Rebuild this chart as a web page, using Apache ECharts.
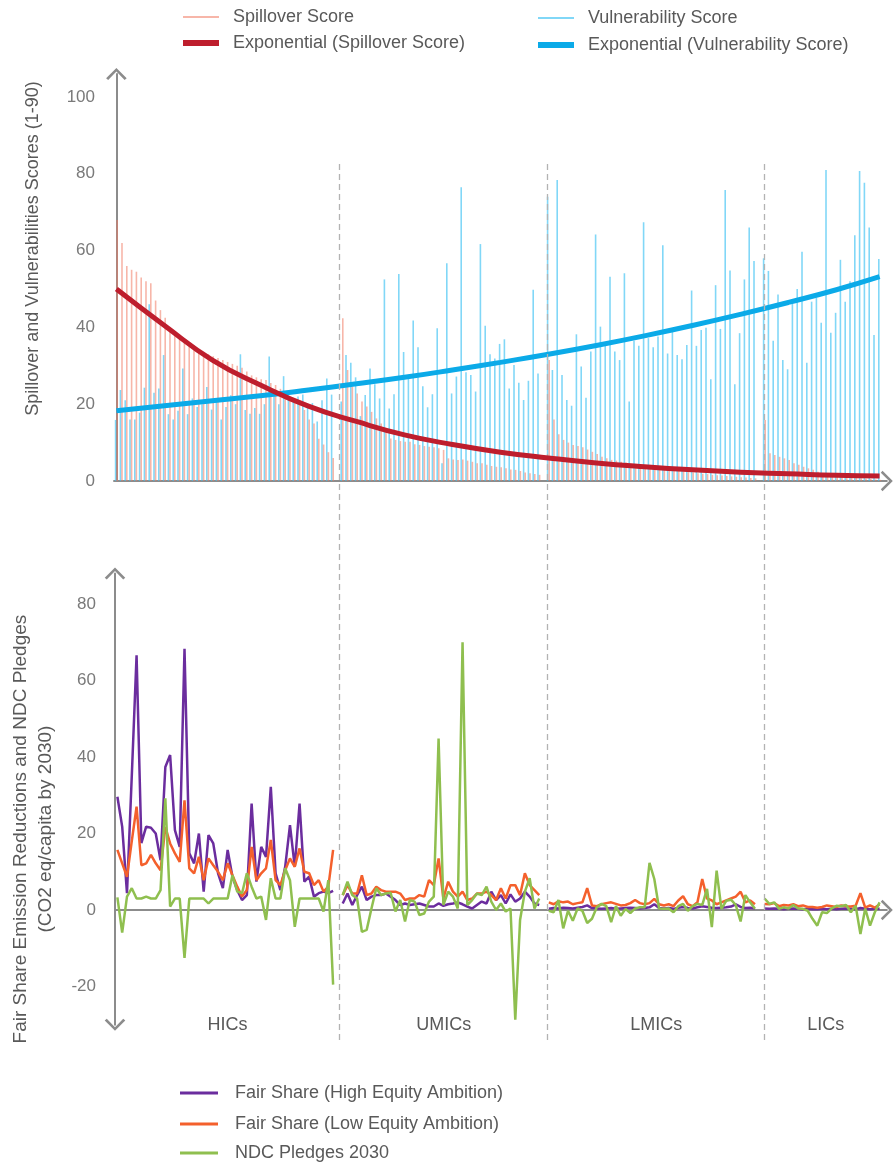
<!DOCTYPE html>
<html>
<head>
<meta charset="utf-8">
<script src="https://cdn.jsdelivr.net/npm/echarts@6/dist/echarts.min.js"></script>
<style>
html,body{margin:0;padding:0;background:#fff;}
#chart{width:894px;height:1166px;}
</style>
</head>
<body>
<div id="chart"></div>
<script>
// ---------- DATA ----------
const groups = ['HICs', 'UMICs', 'LMICs', 'LICs'];

// Spillover Score (bars), per income group, sorted as in the picture
const spillHIC = [68,62,56,55,54.5,53,52,51.5,47,44.5,42.5,40,38.5,37,36,35,34.5,34,33.5,33,32.5,32,31.5,31,30.5,30,29.5,28.5,27.5,27,26.5,26.3,25.5,25,24,23,22,21,20,18.5,16,15,11,9.5,7.5,6];
const spillUMIC = [42.4,28.9,24.6,22.8,20.7,19.4,18,16.3,15,12.8,11.1,10.7,10.4,10.2,10.2,9.6,9.4,9.1,8.9,8.8,8.5,8.1,5.9,5.6,5.5,5.6,5.3,5,4.6,4.6,4.2,3.9,3.7,3.6,3.3,3,2.9,2.6,2.2,2,1.8,1.6];
const spillLMIC = [31.5,16,12.2,10.7,10,9.4,9.1,8.8,8.2,7.6,7,6.3,5.9,5.5,5.3,5,4.8,4.5,4.3,4.1,3.9,3.7,3.5,3.3,3.1,3,2.8,2.6,2.5,2.3,2.2,2,1.9,1.8,1.6,1.5,1.4,1.3,1.2,1.1,1,0.9,0.8,0.7];
const spillLIC = [15.9,7.2,6.8,6.3,5.9,5.5,4.6,4.2,3.7,3.3,2.9,2.4,2,1.7,1.5,1.3,1.1,1,0.9,0.8,0.7,0.6,0.5,0.4,0.3];

// Vulnerability Score (bars)
const vulnHIC = [15.9,23.7,21,16,16,17.8,24.3,46,23,24.1,32.8,17.4,16,18.3,29.3,17.4,21.5,19.3,20,24.5,18.6,21,16,19.3,22.3,20,33,18.5,17.5,19,17.5,20,32.4,22.5,20,27.3,22.5,21.6,22,22.5,19,20.3,15.5,21,26.7,22.5];
const vulnUMIC = [20.7,32.8,30.8,27,16.9,22.4,29.3,25.2,21.5,52.5,18.9,22.6,53.9,33.6,27.2,41.8,34.8,24.7,19.2,22.6,39.8,4.6,56.7,22.8,27.2,76.5,28.3,27.6,23.3,61.7,40.4,33,31.9,35.7,36.9,24.1,30.2,25.6,21.1,26.1,49.8,28];
const vulnLMIC = [74,28.9,78.4,27.6,21.1,19.6,38.2,29.8,21.7,33.7,64.2,40.2,35.9,53.2,33.7,31.5,54.1,20.7,36.5,35.2,67.4,37.2,34.8,37.6,61.4,33.2,38.9,32.8,31.7,35.4,49.6,35.2,39.3,39.9,26.5,51,39.6,75.8,54.8,25.2,38.5,52.5,66,57.3];
const vulnLIC = [58,54.7,36.5,48.6,31.5,29.1,46.3,50,59.7,30.8,46.7,47.7,41.2,81,38.6,43.8,57.6,46.7,52,64,80.7,77.7,66,38,57.8];

// Exponential trend lines (values every 10 country slots)
const trendPos = [0, 10, 20, 30, 40, 50, 60, 70, 80, 90, 100, 110, 120, 130, 140, 150, 159];
const spillTrendVal = [50, 40.5, 31.5, 25, 19.5, 15.5, 12, 9.5, 7.5, 6, 4.7, 3.7, 2.9, 2.3, 1.9, 1.5, 1.3];
const vulnTrendVal = [18.3, 19.6, 20.9, 22.2, 23.7, 25.3, 27, 28.9, 30.9, 33, 35.3, 37.8, 40.5, 43.4, 46.5, 49.8, 53.2];

// Fair Share (High Equity Ambition)
const highHIC = [29.6,21.8,4.4,35,66.6,17.5,21.8,21.5,20,13,37.4,40.5,20.9,16.5,68.3,14.8,12.2,20,4.8,19.6,17.4,9.6,5.7,15.7,8.7,5.2,2.6,3.9,27.8,7.4,16.5,13.9,32.2,9.6,5.2,11.3,22.2,11.3,27.8,7.4,8.7,3.5,4.4,4.8,4.4,5];
const highUMIC = [1.7,4.3,1.3,3.9,6.1,2.6,3.5,3.9,3.9,4.3,3.5,2.6,1.3,1.7,1.3,1.5,1.7,1.3,0.9,0.9,1.7,1.1,1.5,1.7,2,1.5,0.9,0.4,1.3,2.2,1.7,4.8,2.6,3.9,1.7,4.1,2.2,3,4.8,3.5,1.7,1.3];
const highLMIC = [0.3,0.5,0.4,0.6,0.5,0.4,0.6,0.8,1.2,0.5,0.4,0.3,0.4,0.5,0.3,0.4,0.5,0.6,0.5,0.4,0.5,0.7,1.5,0.5,0.4,0.5,0.3,0.6,0.8,0.5,0.4,0.7,1,0.8,0.6,0.5,0.6,0.7,0.9,1.5,0.8,0.5,0.6,0.4];
const highLIC = [0.4,0.3,0.4,0.3,0.2,0.3,0.4,0.3,0.2,0.3,0.2,0.2,0.3,0.2,0.3,0.2,0.3,0.4,0.3,0.2,0.5,0.3,0.2,0.3,0.3];

// Fair Share (Low Equity Ambition)
const lowHIC = [15.7,12.2,8.7,18,27,11.7,12.2,14.4,12.2,10.4,21.7,17.4,14.8,12.6,28.7,10.9,9.6,13.9,7.8,13.5,11.7,10,7.8,12.2,9.1,6.1,3.5,5.2,16.5,7.8,9.6,10.9,18.3,7.8,6.5,10.4,13.5,11.3,16.1,10,9.6,6.5,7.8,4.8,6.1,15.7];
const lowUMIC = [3.9,6.5,4.3,4.3,9.1,3.9,4.3,6.1,5.2,4.8,4.8,4.8,4.3,2.6,3,3,3.9,3.5,7.8,6.5,13.5,3,7.4,4.8,3.5,4.8,2.6,3,4.3,4.3,4.8,3.9,2.6,5.7,3,6.5,6.5,3.9,9.6,6.5,5.2,3.9];
const lowLMIC = [2,1.5,2.3,2,2.2,1.5,1.8,2,5.7,1.2,1,1.5,1.8,2,1.6,1.2,1.3,1.8,2.6,1.8,1.5,1.8,2.9,1.5,1.2,1.5,1,2.5,3.6,1.5,1,2,8.1,3,2.5,1.5,2,2.5,3,3.5,4.8,2,2.5,1.5];
const lowLIC = [1.6,1.5,1.8,1,1.3,1.2,1.5,1,1.2,0.8,0.8,0.6,0.8,1.2,1,0.8,1.2,1,0.9,1.1,4.4,0.6,1.2,0.6,1.5];

// NDC Pledges 2030
const ndcHIC = [3.3,-5.9,3.5,5.7,3,3,3.5,3,3,5.2,29.2,0.9,3,3,-12.5,3,3,3,3,1.7,3,3,3,3,9.1,4.8,4.4,9.6,6.1,3,3.5,-2.6,8.3,3,3,10.9,7.8,-4.4,3,3,3,3,3,-0.4,7.8,-19.5];
const ndcUMIC = [3.9,7.4,3.9,3,-5.7,-5.2,0.4,5.7,3.9,4.3,4.5,-0.4,2.6,-3,2.6,2.2,-1.3,-0.9,2.2,3.5,44.8,1.3,4.8,3.5,0.4,70,1.3,2.6,4.3,3.9,6.1,2.2,0,1.7,-0.4,0.4,-28.7,-2.6,4.8,8.3,0.4,3];
const ndcLMIC = [-0.2,-0.6,2.6,-4.8,-0.2,-2.8,0.4,-0.2,-3.4,-2.3,0.7,1.6,1,-3.2,1,-1.5,0.3,-0.8,0.4,0.7,0.7,12.3,8.1,0.4,0.3,0.4,-0.6,1,1.6,-0.2,1,1.6,1.3,5.5,-4.5,10.3,0.3,2.4,2.7,1.3,-3,3.9,2,0.3];
const ndcLIC = [3,1.6,2,0.3,0.7,0.4,1.3,0.4,0.3,-0.2,-2.3,-4.1,-0.6,-0.8,0.4,1.1,1,1.3,-0.6,1.1,-6.3,0.4,-4.1,-0.6,2];

// ---------- BUILD ----------
// consecutive country slots, one empty slot between income groups
function seq(arrs) {
  const out = []; let x = 0;
  arrs.forEach((a, gi) => {
    if (gi > 0) { out.push([x, null]); x++; }
    a.forEach(v => { out.push([x, v]); x++; });
  });
  return out;
}
function groupStarts(arrs) {
  const r = []; let x = 0;
  arrs.forEach((a, gi) => { if (gi > 0) x++; r.push(x); x += a.length; });
  return r;
}
const starts = groupStarts([spillHIC, spillUMIC, spillLMIC, spillLIC]);
const dividers = [starts[1] - 0.6, starts[2] - 0.2, starts[3]];
const xMin = -0.5, xMax = 160.5;
const areaBounds = [xMin].concat(dividers).concat([xMax]);

const FONT = "'Liberation Sans', Arial, sans-serif";
const TXT = '#595959';
const AX = '#8c8c8c';
const chevron = 'path://M0,12 L12,0 L24,12 L21.6,14 L12,4.2 L2.4,14 Z';

const gridL = 114, unit = 4.8;
const gridW = (xMax - xMin) * unit;

function xAx(gi, showLine) {
  return {
    type: 'value', gridIndex: gi, min: xMin, max: xMax,
    axisLabel: { show: false }, axisTick: { show: false }, splitLine: { show: false },
    axisLine: showLine ? { show: true, onZero: true, symbol: ['none', chevron], symbolSize: [22, 12],
      lineStyle: { color: AX, width: 2 } } : { show: false }
  };
}
const labFmt = v => (v % 20 === 0 ? String(v) : '');
function leg(names, left, top, w, h, pad) {
  return { data: names, left: left, top: top, padding: 0, icon: 'rect', itemWidth: w, itemHeight: h,
    textStyle: { color: TXT, fontSize: 18, lineHeight: 20, fontFamily: FONT, padding: [0, 0, 0, pad] } };
}

const chart = echarts.init(document.getElementById('chart'), null, { renderer: 'canvas' });
const option = {
  animation: false,
  backgroundColor: '#fff',
  textStyle: { fontFamily: FONT },
  grid: [
    { left: gridL, width: gridW, top: 481 - 106 * 3.84, height: 106 * 3.84 },
    { left: gridL, width: gridW, top: 910 - 88 * 3.825, height: 118 * 3.825 },
    { left: gridL, width: gridW, top: 160, height: 880 }
  ],
  xAxis: [xAx(0, true), xAx(1, true), xAx(2, false)],
  yAxis: [
    { type: 'value', gridIndex: 0, min: 0, max: 106, interval: 20,
      axisLine: { show: true, symbol: ['none', chevron], symbolSize: [22, 12], lineStyle: { color: AX, width: 2 } },
      axisTick: { show: false }, splitLine: { show: false },
      axisLabel: { formatter: labFmt, color: '#7a7a7a', fontSize: 17, margin: 19, fontFamily: FONT },
      name: 'Spillover and Vulnerabilities Scores (1-90)', nameLocation: 'middle', nameGap: 72,
      nameTextStyle: { color: TXT, fontSize: 18, fontFamily: FONT, padding: [0, 0, 0, 58] } },
    { type: 'value', gridIndex: 1, min: -30, max: 88, interval: 10,
      axisLine: { show: true, onZero: false, symbol: [chevron, chevron], symbolSize: [22, 12], lineStyle: { color: AX, width: 2 } },
      axisTick: { show: false }, splitLine: { show: false },
      axisLabel: { formatter: labFmt, color: '#7a7a7a', fontSize: 17, margin: 19, fontFamily: FONT },
      name: 'Fair Share Emission Reductions and NDC Pledges\n(CO2 eq/capita by 2030)', nameLocation: 'middle', nameGap: 57,
      nameTextStyle: { color: TXT, fontSize: 19, lineHeight: 25, fontFamily: FONT, padding: [0, 60, 0, 0] } },
    { type: 'value', gridIndex: 2, min: 0, max: 1, show: false }
  ],
  legend: [
    leg(['Spillover Score'], 183, 7, 36, 2, 9),
    leg(['Exponential (Spillover Score)'], 183, 33, 36, 6, 9),
    leg(['Vulnerability Score'], 538, 8, 36, 2, 9),
    leg(['Exponential (Vulnerability Score)'], 538, 35, 36, 6, 9),
    leg(['Fair Share (High Equity Ambition)'], 180, 1083, 38, 3, 12),
    leg(['Fair Share (Low Equity Ambition)'], 180, 1114, 38, 3, 12),
    leg(['NDC Pledges 2030'], 180, 1143, 38, 3, 12)
  ],
  series: [
    { name: 'Vulnerability Score', type: 'bar', xAxisIndex: 0, yAxisIndex: 0, barWidth: 1.6, barGap: '0%',
      itemStyle: { color: '#3EC1F2', opacity: 0.65 },
      data: seq([vulnHIC, vulnUMIC, vulnLMIC, vulnLIC]) },
    { name: 'Spillover Score', type: 'bar', xAxisIndex: 0, yAxisIndex: 0, barWidth: 1.6, barGap: '0%',
      itemStyle: { color: '#F07A62', opacity: 0.55 },
      data: seq([spillHIC, spillUMIC, spillLMIC, spillLIC]) },
    { name: 'Exponential (Vulnerability Score)', type: 'line', xAxisIndex: 0, yAxisIndex: 0, smooth: 0.5,
      showSymbol: false, symbol: 'none', z: 4,
      itemStyle: { color: '#0BAAE8' }, lineStyle: { color: '#0BAAE8', width: 5 },
      data: trendPos.map((p, i) => [p, vulnTrendVal[i]]) },
    { name: 'Exponential (Spillover Score)', type: 'line', xAxisIndex: 0, yAxisIndex: 0, smooth: 0.5,
      showSymbol: false, symbol: 'none', z: 5,
      itemStyle: { color: '#BE1E2D' }, lineStyle: { color: '#BE1E2D', width: 5 },
      data: trendPos.map((p, i) => [p, spillTrendVal[i]]) },
    { name: 'Fair Share (High Equity Ambition)', type: 'line', xAxisIndex: 1, yAxisIndex: 1,
      showSymbol: false, symbol: 'none', connectNulls: false,
      itemStyle: { color: '#6B2D9E' }, lineStyle: { color: '#6B2D9E', width: 2.5 },
      data: seq([highHIC, highUMIC, highLMIC, highLIC]) },
    { name: 'Fair Share (Low Equity Ambition)', type: 'line', xAxisIndex: 1, yAxisIndex: 1,
      showSymbol: false, symbol: 'none', connectNulls: false,
      itemStyle: { color: '#F4602C' }, lineStyle: { color: '#F4602C', width: 2.5 },
      data: seq([lowHIC, lowUMIC, lowLMIC, lowLIC]) },
    { name: 'NDC Pledges 2030', type: 'line', xAxisIndex: 1, yAxisIndex: 1,
      showSymbol: false, symbol: 'none', connectNulls: false,
      itemStyle: { color: '#8FBF4F' }, lineStyle: { color: '#8FBF4F', width: 2.5 },
      data: seq([ndcHIC, ndcUMIC, ndcLMIC, ndcLIC]),
      markArea: {
        silent: true,
        itemStyle: { color: 'rgba(0,0,0,0)' },
        label: { show: true, position: 'inside', offset: [0, 10], color: TXT, fontSize: 18, fontFamily: FONT },
        data: groups.map((g, i) => [
          { name: g, xAxis: areaBounds[i], yAxis: -30 },
          { xAxis: areaBounds[i + 1], yAxis: -25 }
        ])
      } },
    { name: 'dividers', type: 'line', xAxisIndex: 2, yAxisIndex: 2, data: [[xMin, 0]],
      showSymbol: false, symbol: 'none', lineStyle: { opacity: 0 }, silent: true,
      markLine: { silent: true, symbol: ['none', 'none'], label: { show: false },
        lineStyle: { type: [6, 4], color: '#b3b3b3', width: 1.3 },
        data: dividers.map(d => ({ xAxis: d })) } }
  ]
};
chart.setOption(option);
</script>
</body>
</html>
